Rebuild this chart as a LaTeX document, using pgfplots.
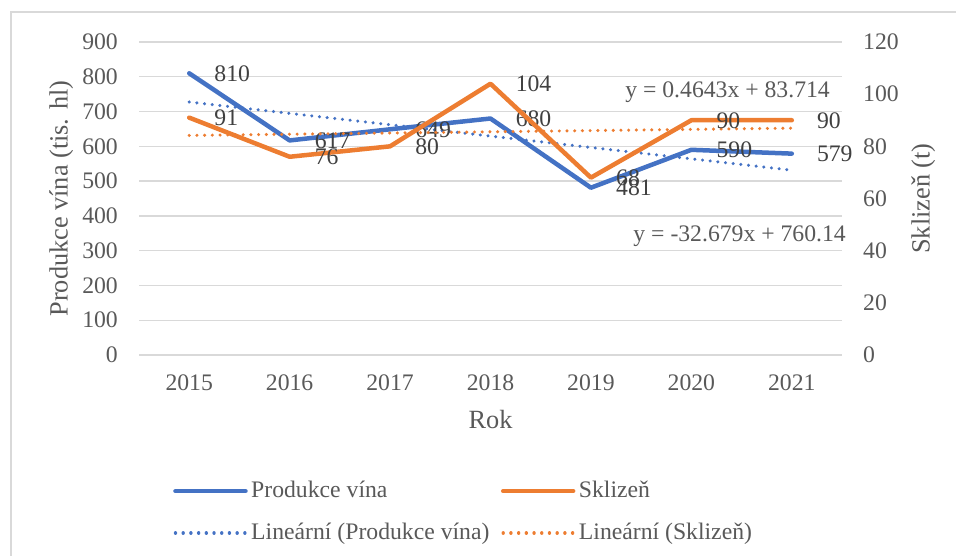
\documentclass[border=0pt]{standalone}
\usepackage{pgfplots}
\pgfplotsset{compat=1.18}
\usepackage{fontspec}
\setmainfont{Liberation Serif}
\definecolor{cblue}{HTML}{4472C4}
\definecolor{corange}{HTML}{ED7D31}
\definecolor{gridgray}{HTML}{D9D9D9}
\definecolor{txtgray}{HTML}{595959}
\definecolor{lblgray}{HTML}{404040}
\newcommand{\fs}{\fontsize{23.7bp}{28bp}\selectfont}
\newcommand{\ft}{\fontsize{26.3bp}{31bp}\selectfont}
\pgfplotsset{/pgf/number format/assume math mode=true}
\begin{document}
\begin{tikzpicture}
\pgfplotsset{
 base/.style={at={(139bp,201bp)}, anchor=south west, scale only axis, width=703bp, height=313bp,
   xmin=-0.5, xmax=6.5, clip=false, axis line style={draw=none}, tick style={draw=none},
   tick label style={font=\fs, text=txtgray}},
 dotline/.style={line width=3.4bp, dash pattern=on 0.01bp off 7.7bp, line cap=round},
 solidline/.style={line width=4.5bp, line join=round, line cap=round},
 dlabel/.style={nodes near coords, every node near coord/.append style={font=\fs, text=lblgray, anchor=west, inner sep=0pt, xshift=23bp}},
}
\begin{axis}[base, ymin=0, ymax=900, ytick={0,100,...,900},
  xtick={0,...,6}, xticklabels={2015,2016,2017,2018,2019,2020,2021},
  ymajorgrids, grid style={gridgray, line width=1.3bp},
  yticklabel style={inner sep=0pt, xshift=-21bp},
  xticklabel style={inner sep=0pt, anchor=north, yshift=-20bp},
  xlabel={Rok}, ylabel={Produkce vína (tis. hl)},
  label style={font=\ft, text=txtgray},
  xlabel style={at={(axis description cs:0.5,-0.2364)}, anchor=base},
  ylabel style={at={(axis description cs:-0.1017,0.5)}, anchor=base}]
\addplot[cblue, solidline, dlabel] coordinates {(0,810)(1,617)(2,649)(3,680)(4,481)(5,590)(6,579)};
\addplot[cblue, dotline] coordinates {(0,727.461)(6,531.387)};
\end{axis}
\begin{axis}[base, ymin=0, ymax=120, ytick={0,20,...,120},
  axis x line=none, axis y line*=right,
  yticklabel style={inner sep=0pt, anchor=west, xshift=21bp},
  ylabel={Sklizeň (t)},
  ylabel style={font=\ft, text=txtgray, at={(axis description cs:1.1245,0.5)}, anchor=base},
  legend style={at={(axis description cs:0.0484,-0.3866)}, anchor=north west, draw=none, fill=none,
    inner sep=0pt, font=\fs, text=txtgray, row sep=12.3bp,
    nodes={text height=17.8bp, text depth=5.9bp, inner xsep=3.5bp, inner ysep=3bp},
    /tikz/every even column/.append style={column sep=8bp}},
  legend columns=2, legend cell align=left,
  legend image code/.code={\draw[#1] (0bp,0bp) -- (70bp,0bp);}]
\addlegendimage{cblue, solidline}
\addlegendentry{Produkce vína}
\addlegendimage{corange, solidline}
\addlegendentry{Sklizeň}
\addlegendimage{cblue, dotline}
\addlegendentry{Lineární (Produkce vína)}
\addlegendimage{corange, dotline}
\addlegendentry{Lineární (Sklizeň)}
\addplot[corange, solidline, dlabel, forget plot] coordinates {(0,91)(1,76)(2,80)(3,104)(4,68)(5,90)(6,90)};
\addplot[corange, dotline, forget plot] coordinates {(0,84.178)(6,86.964)};
\end{axis}
\node[font=\fs, text=txtgray, anchor=base east, inner sep=0pt] at (830bp,458bp) {y = 0.4643x + 83.714};
\node[font=\fs, text=txtgray, anchor=base east, inner sep=0pt] at (846bp,314bp) {y = -32.679x + 760.14};
\draw[gridgray, line width=1.3bp] (11bp,0bp) -- (11bp,544bp) -- (956bp,544bp);
\pgfresetboundingbox
\useasboundingbox (0,0) rectangle (956bp,556bp);
\end{tikzpicture}
\end{document}
